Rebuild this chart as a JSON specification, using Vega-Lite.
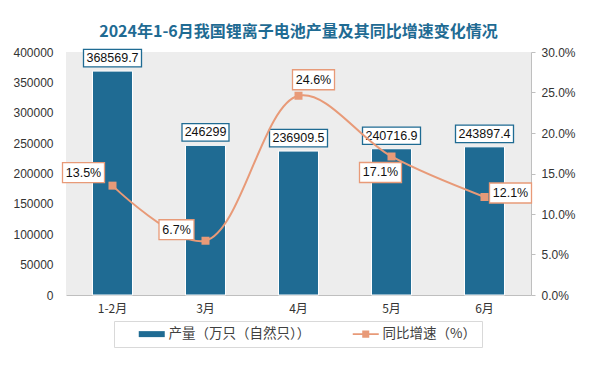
{
  "$schema": "https://vega.github.io/schema/vega-lite/v6.json",
  "width": 465,
  "height": 243,
  "padding": {"left": 12, "top": 24, "right": 5, "bottom": 5},
  "background": "white",
  "config": {
    "view": {"stroke": null, "fill": "#ededed"},
    "axis": {"labelFont": "Liberation Sans", "labelFontSize": 12, "labelColor": "#333333", "grid": false, "title": null, "labelOverlap": false}
  },
  "title": {
    "text": "2024年1-6月我国锂离子电池产量及其同比增速变化情况",
    "fontSize": 16,
    "fontWeight": "bold",
    "color": "#1f6b93",
    "font": "Noto Sans CJK SC",
    "anchor": "middle",
    "offset": 6
  },
  "data": {
    "values": [
      {"month": "1-2月", "output": 368569.7, "rate": 0.135},
      {"month": "3月", "output": 246299, "rate": 0.067},
      {"month": "4月", "output": 236909.5, "rate": 0.246},
      {"month": "5月", "output": 240716.9, "rate": 0.171},
      {"month": "6月", "output": 243897.4, "rate": 0.121}
    ]
  },
  "encoding": {
    "x": {
      "field": "month",
      "type": "nominal",
      "sort": null,
      "scale": {"domain": ["1-2月", "3月", "4月", "5月", "6月"], "paddingInner": 0.57, "paddingOuter": 0.285},
      "axis": {"labelAngle": 0, "ticks": false, "domainColor": "#bfbfbf", "labelPadding": 8, "labelFont": "Noto Sans CJK SC"}
    }
  },
  "layer": [
    {
      "encoding": {
        "y": {
          "field": "output",
          "type": "quantitative",
          "scale": {"domain": [0, 400000]},
          "axis": {"orient": "left", "domain": false, "ticks": false, "labelPadding": 13, "format": "d", "labelOverlap": false, "values": [0, 50000, 100000, 150000, 200000, 250000, 300000, 350000, 400000]}
        }
      },
      "layer": [
        {
          "mark": {"type": "bar", "stroke": "white", "strokeWidth": 1},
          "encoding": {
            "color": {
              "datum": "产量（万只（自然只））",
              "scale": {"domain": ["产量（万只（自然只））", "同比增速（%）"], "range": ["#1f6b93", "#e89a78"]},
              "legend": {
                "orient": "none",
                "legendX": 48,
                "legendY": 269,
                "direction": "horizontal",
                "title": "　",
                "titleOrient": "left",
                "titleFontSize": 12.5,
                "titlePadding": 25,
                "padding": 6,
                "strokeColor": "#d9d9d9",
                "fillColor": "white",
                "labelFont": "Noto Sans CJK SC",
                "labelFontSize": 13.5,
                "labelColor": "#404040",
                "labelOffset": 10,
                "columnPadding": 41,
                "symbolSize": 169,
                "symbolStrokeWidth": 0,
                "symbolOpacity": 1,
                "symbolType": {"expr": "datum.value == '产量（万只（自然只））' ? 'M-2,-0.46H2V0.46H-2Z' : 'M-2,-0.15H2V0.15H-2Z M-0.54,-0.54H0.54V0.54H-0.54Z'"},
                "labelExpr": "datum.label == '同比增速（%）' ? datum.label + '　　' : datum.label"
              }
            }
          }
        },
        {
          "mark": {"type": "point", "filled": true, "fill": "white", "stroke": "#1f6b93", "strokeWidth": 1.3, "opacity": 1, "yOffset": -13},
          "encoding": {
            "shape": {"condition": {"test": "datum.month === '3月'", "value": "M-1,-0.372H1V0.372H-1Z"}, "value": "M-1,-0.3H1V0.3H-1Z"},
            "size": {"condition": {"test": "datum.month === '3月'", "value": 2209}, "value": 3364}
          }
        },
        {
          "mark": {"type": "text", "font": "Liberation Sans", "fontSize": 12.5, "color": "#111111", "baseline": "middle", "yOffset": -13},
          "encoding": {
            "text": {"field": "output", "type": "nominal"}
          }
        }
      ]
    },
    {
      "encoding": {
        "y": {
          "field": "rate",
          "type": "quantitative",
          "scale": {"domain": [0, 0.3]},
          "axis": {"orient": "right", "format": ".1%", "values": [0, 0.05, 0.1, 0.15, 0.2, 0.25, 0.3], "domainColor": "#bfbfbf", "tickColor": "#bfbfbf", "tickSize": 4, "labelPadding": 6}
        }
      },
      "layer": [
        {
          "mark": {"type": "line", "interpolate": "catmull-rom", "strokeWidth": 2, "color": "#e89a78"}
        },
        {
          "mark": {"type": "square", "size": 64, "opacity": 1, "filled": true, "color": "#e89a78"}
        },
        {
          "transform": [{"filter": "datum.month === '1-2月'"}],
          "layer": [
            {"mark": {"type": "point", "shape": "M-1,-0.476H1V0.476H-1Z", "size": 1764, "filled": true, "fill": "white", "stroke": "#e89a78", "strokeWidth": 1.3, "opacity": 1, "xOffset": -29, "yOffset": -13}},
            {"mark": {"type": "text", "font": "Liberation Sans", "fontSize": 12.5, "color": "#111111", "baseline": "middle", "xOffset": -29, "yOffset": -13}, "encoding": {"text": {"field": "rate", "type": "quantitative", "format": ".1%"}}}
          ]
        },
        {
          "transform": [{"filter": "datum.month === '3月'"}],
          "layer": [
            {"mark": {"type": "point", "shape": "M-1,-0.571H1V0.571H-1Z", "size": 1225, "filled": true, "fill": "white", "stroke": "#e89a78", "strokeWidth": 1.3, "opacity": 1, "xOffset": -29, "yOffset": -11}},
            {"mark": {"type": "text", "font": "Liberation Sans", "fontSize": 12.5, "color": "#111111", "baseline": "middle", "xOffset": -29, "yOffset": -11}, "encoding": {"text": {"field": "rate", "type": "quantitative", "format": ".1%"}}}
          ]
        },
        {
          "transform": [{"filter": "datum.month === '4月'"}],
          "layer": [
            {"mark": {"type": "point", "shape": "M-1,-0.476H1V0.476H-1Z", "size": 1764, "filled": true, "fill": "white", "stroke": "#e89a78", "strokeWidth": 1.3, "opacity": 1, "xOffset": 15, "yOffset": -16}},
            {"mark": {"type": "text", "font": "Liberation Sans", "fontSize": 12.5, "color": "#111111", "baseline": "middle", "xOffset": 15, "yOffset": -16}, "encoding": {"text": {"field": "rate", "type": "quantitative", "format": ".1%"}}}
          ]
        },
        {
          "transform": [{"filter": "datum.month === '5月'"}],
          "layer": [
            {"mark": {"type": "point", "shape": "M-1,-0.476H1V0.476H-1Z", "size": 1764, "filled": true, "fill": "white", "stroke": "#e89a78", "strokeWidth": 1.3, "opacity": 1, "xOffset": -11, "yOffset": 16}},
            {"mark": {"type": "text", "font": "Liberation Sans", "fontSize": 12.5, "color": "#111111", "baseline": "middle", "xOffset": -11, "yOffset": 16}, "encoding": {"text": {"field": "rate", "type": "quantitative", "format": ".1%"}}}
          ]
        },
        {
          "transform": [{"filter": "datum.month === '6月'"}],
          "layer": [
            {"mark": {"type": "point", "shape": "M-1,-0.476H1V0.476H-1Z", "size": 1764, "filled": true, "fill": "white", "stroke": "#e89a78", "strokeWidth": 1.3, "opacity": 1, "xOffset": 26, "yOffset": -4}},
            {"mark": {"type": "text", "font": "Liberation Sans", "fontSize": 12.5, "color": "#111111", "baseline": "middle", "xOffset": 26, "yOffset": -4}, "encoding": {"text": {"field": "rate", "type": "quantitative", "format": ".1%"}}}
          ]
        }
      ]
    }
  ],
  "resolve": {"scale": {"y": "independent"}}
}
